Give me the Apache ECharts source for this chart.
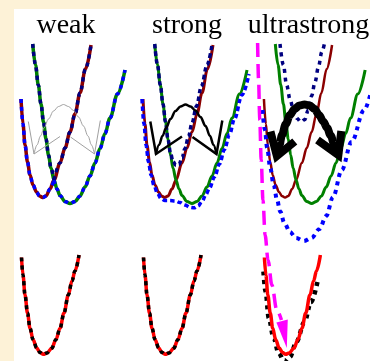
<!DOCTYPE html>
<html>
<head>
<meta charset="utf-8">
<script src="https://cdn.jsdelivr.net/npm/echarts@6/dist/echarts.min.js"></script>
<style>
  html, body { margin: 0; padding: 0; background: #fdf2d7; }
  #chart { width: 370px; height: 361px; }
</style>
</head>
<body>
<div id="chart"></div>
<script>
// Column headings
const panelTitles = ['weak', 'strong', 'ultrastrong'];
const titleCenters = [66, 187, 308.5];

// Diabatic potential curves (x, energy) shared by the three coupling regimes
const stateA = [[21,99],[23,124],[25,145],[27.5,162],[30,175],[33,185],[36.5,192],[39.5,196],[42.7,197.5],[46,196],[50,189],[54,180],[60,163],[65,148],[70,132],[75,114],[80,93],[85.5,69],[91,45]];
const stateB = [[32.7,44],[35.5,65],[38.3,85],[41,104],[43.5,122],[46,139],[48.5,155],[51,168],[54,180],[57,189],[60,195.5],[65,201.5],[70,203.5],[75,201.5],[80,196],[85,187],[90,176],[95,163],[100,148.5],[105,133.5],[110,118],[117.5,94],[125,70]];
// Crossing point of the two diabatic curves
const crossX = 54;

// Polariton branches, strong coupling
const strongLower = [[20,99],[22,124],[24,145],[26.5,162],[29,175],[32,185.5],[35.5,193.5],[39,198.5],[43,200.5],[48,200.5],[53,201],[58,202.5],[63,205],[68,207.3],[72,207.8],[76,206],[80,201.5],[84,194.5],[87.5,188],[92.5,177],[97.5,164],[102.5,149.5],[107.5,134.5],[112.5,119],[120,95],[127,74]];
const strongUpper = [[32.7,44],[35.5,65],[38.3,85],[41,104],[43.5,122],[46,139.5],[48.5,153],[51,161.5],[54,165.5],[57,164.5],[60,158],[63,148.5],[66.5,136.5],[70,123],[74.5,106],[79.5,86],[85,65],[90,45]];

// Polariton branches, ultrastrong coupling
const ultraLower = [[19.5,110],[22,130],[24.3,148],[27.5,168],[31,185],[34.5,200],[37.7,211.5],[42,223],[47.7,232],[54,238],[62,241],[70,238],[78,229],[85,216],[92,197],[101,170],[111,142],[124,110],[131,92]];
const ultraUpper = [[37.5,44],[41,65],[44.3,85],[48,100],[51.5,111],[55,118.5],[59,122],[63,119.5],[66.5,110],[70,96],[73.5,82],[77,67],[80.5,52],[83.5,42]];

// Ground-state curves (bottom row)
const groundCurve = [[21.5,257.5],[23,275],[25,295],[27.5,313],[30,328],[33,339.5],[36.7,348],[40,352.5],[43.3,354.3],[47,353],[51.7,348.3],[56,339.5],[60,328.3],[64,313],[68.3,295],[72,281],[75,271],[79,255]];
const groundUltra = [[20.5,271.5],[22.7,291.7],[26,318],[31,338],[36,353],[42,361.5],[47.7,357],[54.3,342],[62.7,322],[69.3,302],[76,282]];

// Transfer arrows
const arrowArc = [[34,154],[37,145],[40.5,136],[44,128],[48.5,119],[53.5,111],[58.5,106.5],[63.5,104.5],[68.5,106.5],[73.5,110.5],[78.5,117],[83.5,126],[88,136],[91.5,145],[94.5,154]];
const arrowHeadLeft = [[28.3,121.5],[34,154],[60,136.5]];
const arrowHeadRight = [[100.3,120.5],[94.5,154],[70.5,137]];
const ultraArc = [[34.3,156],[37,145],[39.5,135],[43.5,124],[47.7,115],[52.5,109],[57.5,105.5],[62.7,104.5],[68,105.5],[73,109],[77.7,115],[82,121.5],[86,128],[89.5,135.5],[93.5,145],[97.5,155]];
const ultraHeadLeft = [[27.7,131.5],[34.3,156],[52.7,141.5]];
const ultraHeadRight = [[100.5,131],[97.5,155],[76,140]];

// Vertical relaxation path (ultrastrong) and its arrowhead
const relaxPath = [[14.5,43],[15.5,80],[16.7,120],[18.2,160],[20,200],[22.2,235],[25.2,260],[29.2,285],[34.2,310],[39,320]];
const relaxHead = [[33.8,322.5,45.5,319.5,44.5,348]];

const panelOffsets = [0, 122, 243.5];

const chart = echarts.init(document.getElementById('chart'), null, { renderer: 'canvas' });

function line(grid, data, color, width, dash, z, smooth) {
  return {
    type: 'line',
    xAxisIndex: grid, yAxisIndex: grid,
    data: data,
    symbol: 'none', showSymbol: false,
    smooth: smooth === undefined ? 0.35 : smooth,
    smoothMonotone: smooth === false ? undefined : 'x',
    lineStyle: { color: color, width: width, type: dash || 'solid', cap: 'butt', join: 'miter' },
    z: z || 2,
    silent: true,
    animation: false
  };
}

const lowerLeftA = stateA.filter(p => p[0] <= crossX);
const upperRightA = stateA.filter(p => p[0] >= crossX);
const upperLeftB = stateB.filter(p => p[0] <= crossX);
const lowerRightB = stateB.filter(p => p[0] >= crossX);

const RED = '#8b0000', GREEN = '#008000', BLUE = '#0000ff', NAVY = '#000080';

const series = [
  // weak coupling
  line(0, stateA, RED, 3.5),
  line(0, stateB, GREEN, 3.5),
  line(0, lowerLeftA, BLUE, 3.5, [4, 4], 3),
  line(0, lowerRightB, BLUE, 3.5, [4, 4], 3),
  line(0, upperLeftB, NAVY, 3.5, [4, 4], 3),
  line(0, upperRightA, NAVY, 3.5, [4, 4], 3),
  line(0, arrowArc, '#a0a0a0', 1, 'solid', 4),
  line(0, arrowHeadLeft, '#a0a0a0', 1, 'solid', 4, false),
  line(0, arrowHeadRight, '#a0a0a0', 1, 'solid', 4, false),
  line(0, groundCurve, '#ff0000', 3.5),
  line(0, groundCurve, '#000000', 3.5, [4, 4], 3),

  // strong coupling
  line(1, stateA, RED, 3),
  line(1, stateB, GREEN, 3),
  line(1, strongLower, BLUE, 3.5, [4.5, 3], 3),
  line(1, strongUpper, NAVY, 3.5, [4.5, 3], 3),
  line(1, arrowArc, '#000000', 2.5, 'solid', 4),
  line(1, arrowHeadLeft, '#000000', 2.5, 'solid', 4, false),
  line(1, arrowHeadRight, '#000000', 2.5, 'solid', 4, false),
  line(1, groundCurve, '#ff0000', 3.5),
  line(1, groundCurve, '#000000', 3.5, [4, 4], 3),

  // ultrastrong coupling
  line(2, stateA, RED, 2.5),
  line(2, stateB, GREEN, 3),
  line(2, ultraLower, BLUE, 4, [4, 4.5], 3),
  line(2, ultraUpper, NAVY, 3.5, [4, 4.5], 3),
  line(2, ultraArc, '#000000', 8, 'solid', 4),
  line(2, ultraHeadLeft, '#000000', 8, 'solid', 4, false),
  line(2, ultraHeadRight, '#000000', 8, 'solid', 4, false),
  line(2, groundUltra, '#000000', 4.5, [4, 4.5], 3),
  line(2, groundCurve, '#ff0000', 3.5, 'solid', 3),
  line(2, relaxPath, '#ff00ff', 3.5, [14, 7], 5),
  {
    type: 'custom',
    xAxisIndex: 2, yAxisIndex: 2,
    data: relaxHead,
    z: 5,
    silent: true,
    animation: false,
    renderItem: function (params, api) {
      const pts = [
        api.coord([api.value(0), api.value(1)]),
        api.coord([api.value(2), api.value(3)]),
        api.coord([api.value(4), api.value(5)])
      ];
      return { type: 'polygon', shape: { points: pts }, style: { fill: '#ff00ff' } };
    }
  }
];

const grids = panelOffsets.map(o => ({ left: o, top: 0, width: 130, height: 361, show: false }));
const xAxes = panelOffsets.map((o, i) => ({ gridIndex: i, type: 'value', min: 0, max: 130, show: false }));
const yAxes = panelOffsets.map((o, i) => ({ gridIndex: i, type: 'value', min: 0, max: 361, inverse: true, show: false }));

const graphics = [
  { type: 'rect', shape: { x: 14, y: 9, width: 356, height: 352 }, style: { fill: '#ffffff' }, z: 0 }
].concat(panelTitles.map((t, i) => ({
  type: 'text',
  x: titleCenters[i], y: 12, z: 10,
  style: {
    text: t,
    fill: '#000000',
    font: '28px "Liberation Serif"',
    textAlign: 'center', textVerticalAlign: 'top',
    align: 'center', verticalAlign: 'top'
  }
})));

chart.setOption({
  backgroundColor: '#fdf2d7',
  animation: false,
  grid: grids,
  xAxis: xAxes,
  yAxis: yAxes,
  graphic: graphics,
  series: series
});
</script>
</body>
</html>
